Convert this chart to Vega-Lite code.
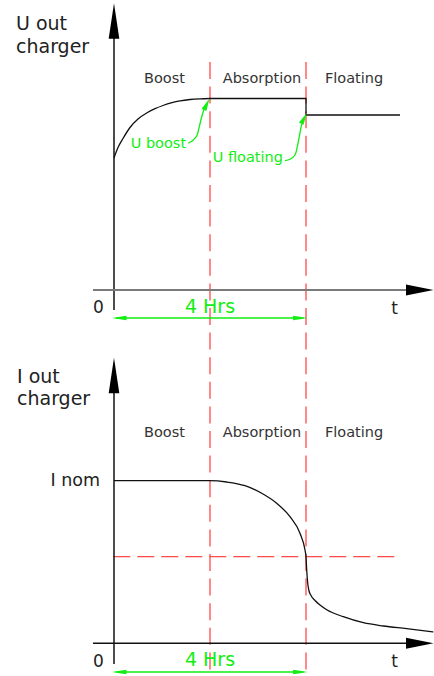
{
  "$schema": "https://vega.github.io/schema/vega-lite/v6.json",
  "width": 434,
  "height": 676,
  "padding": 0,
  "autosize": {"type": "none"},
  "background": "white",
  "config": {"view": {"stroke": null}},
  "datasets": {
    "segments": [
      {"kind": "dashV", "h": 2, "h2": 2, "v": 614, "v2": 4},
      {"kind": "dashV", "h": 4, "h2": 4, "v": 614, "v2": 4},
      {"kind": "dashH", "h": -0.0146, "h2": 5.9729, "v": 119.3, "v2": 119.3},
      {"kind": "axisV", "h": 0, "h2": 0, "v": 648, "v2": 366},
      {"kind": "axisV", "h": 0, "h2": 0, "v": 292, "v2": 12},
      {"kind": "axisHtop", "h": -0.4375, "h2": 6.1667, "v": 386, "v2": 386},
      {"kind": "axisHbot", "h": -0.4375, "h2": 6.1667, "v": 32.7, "v2": 32.7},
      {"kind": "dim", "h": 0.0417, "h2": 3.9479, "v": 358, "v2": 358},
      {"kind": "dim", "h": 0.0417, "h2": 3.9479, "v": 4, "v2": 4}
    ],
    "curves": [
      {"curve": "Urise", "i": 1, "h": 0, "v": 518},
      {"curve": "Urise", "i": 2, "h": 0.0833, "v": 528.4},
      {"curve": "Urise", "i": 3, "h": 0.1875, "v": 537.5},
      {"curve": "Urise", "i": 4, "h": 0.3333, "v": 548.5},
      {"curve": "Urise", "i": 5, "h": 0.5, "v": 557},
      {"curve": "Urise", "i": 6, "h": 0.6875, "v": 563.2},
      {"curve": "Urise", "i": 7, "h": 0.8542, "v": 567.3},
      {"curve": "Urise", "i": 8, "h": 1.0208, "v": 570.5},
      {"curve": "Urise", "i": 9, "h": 1.2083, "v": 573.3},
      {"curve": "Urise", "i": 10, "h": 1.375, "v": 575.1},
      {"curve": "Urise", "i": 11, "h": 1.5833, "v": 576.5},
      {"curve": "Urise", "i": 12, "h": 1.7917, "v": 577.2},
      {"curve": "Urise", "i": 13, "h": 2, "v": 577.5},
      {"curve": "Ustep", "i": 1, "h": 2, "v": 577.5},
      {"curve": "Ustep", "i": 2, "h": 4, "v": 577.5},
      {"curve": "Ustep", "i": 3, "h": 4, "v": 561},
      {"curve": "Ustep", "i": 4, "h": 5.9583, "v": 561},
      {"curve": "I", "i": 1, "h": 0, "v": 195.3},
      {"curve": "I", "i": 2, "h": 2, "v": 195.3},
      {"curve": "I", "i": 3, "h": 2.3479, "v": 194},
      {"curve": "I", "i": 4, "h": 2.7292, "v": 190.3},
      {"curve": "I", "i": 5, "h": 3.0771, "v": 182.7},
      {"curve": "I", "i": 6, "h": 3.3896, "v": 172.7},
      {"curve": "I", "i": 7, "h": 3.6667, "v": 159.3},
      {"curve": "I", "i": 8, "h": 3.875, "v": 142.7},
      {"curve": "I", "i": 9, "h": 3.9792, "v": 126},
      {"curve": "I", "i": 10, "h": 4, "v": 119.3},
      {"curve": "I", "i": 11, "h": 4.0146, "v": 106},
      {"curve": "I", "i": 12, "h": 4.0333, "v": 94},
      {"curve": "I", "i": 13, "h": 4.0583, "v": 86},
      {"curve": "I", "i": 14, "h": 4.1042, "v": 80.5},
      {"curve": "I", "i": 15, "h": 4.1875, "v": 75.5},
      {"curve": "I", "i": 16, "h": 4.2917, "v": 71},
      {"curve": "I", "i": 17, "h": 4.4313, "v": 66.3},
      {"curve": "I", "i": 18, "h": 4.7771, "v": 59.3},
      {"curve": "I", "i": 19, "h": 5.1938, "v": 53.3},
      {"curve": "I", "i": 20, "h": 5.6104, "v": 50},
      {"curve": "I", "i": 21, "h": 6.0979, "v": 47.3},
      {"curve": "I", "i": 22, "h": 6.6521, "v": 44},
      {"curve": "boost", "i": 1, "h": 1.5479, "v": 532.7},
      {"curve": "boost", "i": 2, "h": 1.6521, "v": 536},
      {"curve": "boost", "i": 3, "h": 1.7229, "v": 540},
      {"curve": "boost", "i": 4, "h": 1.7771, "v": 549.3},
      {"curve": "boost", "i": 5, "h": 1.8271, "v": 559.3},
      {"curve": "boost", "i": 6, "h": 1.8854, "v": 568},
      {"curve": "float", "i": 1, "h": 3.5625, "v": 515.3},
      {"curve": "float", "i": 2, "h": 3.6667, "v": 516.7},
      {"curve": "float", "i": 3, "h": 3.7708, "v": 521},
      {"curve": "float", "i": 4, "h": 3.8188, "v": 529.3},
      {"curve": "float", "i": 5, "h": 3.8604, "v": 539.3},
      {"curve": "float", "i": 6, "h": 3.8958, "v": 548.7},
      {"curve": "float", "i": 7, "h": 3.9229, "v": 553}
    ],
    "heads": [
      {"kind": "upBlack", "h": 0, "v": 655},
      {"kind": "upBlack", "h": 0, "v": 300.5},
      {"kind": "rightBlack", "h": 6.3698, "v": 386},
      {"kind": "rightBlack", "h": 6.3698, "v": 32.7},
      {"kind": "leftGreen", "h": 0.1083, "v": 358},
      {"kind": "leftGreen", "h": 0.1083, "v": 4},
      {"kind": "rightGreen", "h": 3.8833, "v": 358},
      {"kind": "rightGreen", "h": 3.8833, "v": 4},
      {"kind": "boostGreen", "h": 1.9323, "v": 571.75},
      {"kind": "floatGreen", "h": 3.9604, "v": 557.8}
    ],
    "labels": [
      {"cls": "title", "text": "U out", "h": -2.0417, "v": 646},
      {"cls": "title", "text": "charger", "h": -2.0417, "v": 623},
      {"cls": "title", "text": "I out", "h": -2.0208, "v": 293.3},
      {"cls": "title", "text": "charger", "h": -2.0208, "v": 271},
      {"cls": "phase", "text": "Boost", "h": 1.0521, "v": 593},
      {"cls": "phase", "text": "Absorption", "h": 3.0833, "v": 593},
      {"cls": "phase", "text": "Floating", "h": 5.0, "v": 593},
      {"cls": "phase", "text": "Boost", "h": 1.0521, "v": 239.3},
      {"cls": "phase", "text": "Absorption", "h": 3.0833, "v": 239.3},
      {"cls": "phase", "text": "Floating", "h": 5.0, "v": 239.3},
      {"cls": "tick", "text": "0", "h": -0.3229, "v": 363},
      {"cls": "tick", "text": "0", "h": -0.3229, "v": 9},
      {"cls": "tick", "text": "t", "h": 5.8438, "v": 362},
      {"cls": "tick", "text": "t", "h": 5.8438, "v": 9},
      {"cls": "inom", "text": "I nom", "h": -0.2917, "v": 190.5},
      {"cls": "hrs", "text": "4 Hrs", "h": 2, "v": 363.3},
      {"cls": "hrs", "text": "4 Hrs", "h": 2, "v": 10.3},
      {"cls": "ulabel", "text": "U boost", "h": 0.3479, "v": 528},
      {"cls": "ulabel", "text": "U floating", "h": 2.0563, "v": 514.3}
    ]
  },
  "encoding": {
    "x": {"field": "h", "type": "quantitative", "axis": null, "scale": {"domain": [-2.375, 6.6667], "nice": false, "zero": false}},
    "y": {"field": "v", "type": "quantitative", "axis": null, "scale": {"domain": [0, 676], "nice": false, "zero": false}}
  },
  "layer": [
    {
      "data": {"name": "segments"},
      "transform": [{"filter": "datum.kind === 'dashV'"}],
      "mark": {"type": "rule", "color": "#ff4a4a", "strokeWidth": 1.3, "strokeDash": [17, 7.6]},
      "encoding": {"x2": {"field": "h2"}, "y2": {"field": "v2"}}
    },
    {
      "data": {"name": "segments"},
      "transform": [{"filter": "datum.kind === 'dashH'"}],
      "mark": {"type": "rule", "color": "#ff4a4a", "strokeWidth": 1.3, "strokeDash": [17, 7]},
      "encoding": {"x2": {"field": "h2"}, "y2": {"field": "v2"}}
    },
    {
      "data": {"name": "segments"},
      "transform": [{"filter": "datum.kind === 'axisV'"}],
      "mark": {"type": "rule", "color": "#111111", "strokeWidth": 1.5},
      "encoding": {"x2": {"field": "h2"}, "y2": {"field": "v2"}}
    },
    {
      "data": {"name": "segments"},
      "transform": [{"filter": "datum.kind === 'axisHtop'"}],
      "mark": {"type": "rule", "color": "#7a7a7a", "strokeWidth": 2},
      "encoding": {"x2": {"field": "h2"}, "y2": {"field": "v2"}}
    },
    {
      "data": {"name": "segments"},
      "transform": [{"filter": "datum.kind === 'axisHbot'"}],
      "mark": {"type": "rule", "color": "#111111", "strokeWidth": 1.5},
      "encoding": {"x2": {"field": "h2"}, "y2": {"field": "v2"}}
    },
    {
      "data": {"name": "segments"},
      "transform": [{"filter": "datum.kind === 'dim'"}],
      "mark": {"type": "rule", "color": "#11ee11", "strokeWidth": 1.4},
      "encoding": {"x2": {"field": "h2"}, "y2": {"field": "v2"}}
    },
    {
      "data": {"name": "curves"},
      "transform": [{"filter": "datum.curve === 'Urise' || datum.curve === 'I'"}],
      "mark": {"type": "line", "color": "#111111", "strokeWidth": 1.3, "interpolate": "monotone"},
      "encoding": {"detail": {"field": "curve"}, "order": {"field": "i", "type": "quantitative"}}
    },
    {
      "data": {"name": "curves"},
      "transform": [{"filter": "datum.curve === 'Ustep'"}],
      "mark": {"type": "line", "color": "#111111", "strokeWidth": 1.3},
      "encoding": {"order": {"field": "i", "type": "quantitative"}}
    },
    {
      "data": {"name": "curves"},
      "transform": [{"filter": "datum.curve === 'boost' || datum.curve === 'float'"}],
      "mark": {"type": "line", "color": "#11ee11", "strokeWidth": 1.3, "interpolate": "catmull-rom"},
      "encoding": {"detail": {"field": "curve"}, "order": {"field": "i", "type": "quantitative"}}
    },
    {
      "data": {"name": "heads"},
      "transform": [{"filter": "datum.kind === 'upBlack'"}],
      "mark": {"type": "point", "shape": "M0,-1L0.3,1L-0.3,1Z", "size": 1260, "filled": true, "color": "#000000", "opacity": 1, "strokeWidth": 0}
    },
    {
      "data": {"name": "heads"},
      "transform": [{"filter": "datum.kind === 'rightBlack'"}],
      "mark": {"type": "point", "shape": "M1,0L-1,-0.4L-1,0.4Z", "size": 756, "filled": true, "color": "#000000", "opacity": 1, "strokeWidth": 0}
    },
    {
      "data": {"name": "heads"},
      "transform": [{"filter": "datum.kind === 'leftGreen'"}],
      "mark": {"type": "point", "shape": "M-1,0L1,-0.32L1,0.32Z", "size": 213, "filled": true, "color": "#11ee11", "opacity": 1, "strokeWidth": 0}
    },
    {
      "data": {"name": "heads"},
      "transform": [{"filter": "datum.kind === 'rightGreen'"}],
      "mark": {"type": "point", "shape": "M1,0L-1,-0.32L-1,0.32Z", "size": 213, "filled": true, "color": "#11ee11", "opacity": 1, "strokeWidth": 0}
    },
    {
      "data": {"name": "heads"},
      "transform": [{"filter": "datum.kind === 'boostGreen'"}],
      "mark": {"type": "point", "shape": "M0,-1L0.42,1L-0.42,1Z", "size": 161, "angle": 26, "filled": true, "color": "#11ee11", "opacity": 1, "strokeWidth": 0}
    },
    {
      "data": {"name": "heads"},
      "transform": [{"filter": "datum.kind === 'floatGreen'"}],
      "mark": {"type": "point", "shape": "M0,-1L0.42,1L-0.42,1Z", "size": 150, "angle": 28, "filled": true, "color": "#11ee11", "opacity": 1, "strokeWidth": 0}
    },
    {
      "data": {"name": "labels"},
      "transform": [{"filter": "datum.cls === 'title'"}],
      "mark": {"type": "text", "align": "left", "baseline": "alphabetic", "font": "DejaVu Sans", "fontSize": 19, "color": "#222222"},
      "encoding": {"text": {"field": "text"}}
    },
    {
      "data": {"name": "labels"},
      "transform": [{"filter": "datum.cls === 'phase'"}],
      "mark": {"type": "text", "align": "center", "baseline": "alphabetic", "font": "DejaVu Sans", "fontSize": 14.5, "color": "#333333"},
      "encoding": {"text": {"field": "text"}}
    },
    {
      "data": {"name": "labels"},
      "transform": [{"filter": "datum.cls === 'tick'"}],
      "mark": {"type": "text", "align": "center", "baseline": "alphabetic", "font": "DejaVu Sans", "fontSize": 17, "color": "#222222"},
      "encoding": {"text": {"field": "text"}}
    },
    {
      "data": {"name": "labels"},
      "transform": [{"filter": "datum.cls === 'inom'"}],
      "mark": {"type": "text", "align": "right", "baseline": "alphabetic", "font": "DejaVu Sans", "fontSize": 17.5, "color": "#222222"},
      "encoding": {"text": {"field": "text"}}
    },
    {
      "data": {"name": "labels"},
      "transform": [{"filter": "datum.cls === 'hrs'"}],
      "mark": {"type": "text", "align": "center", "baseline": "alphabetic", "font": "DejaVu Sans", "fontSize": 19, "color": "#11ee11"},
      "encoding": {"text": {"field": "text"}}
    },
    {
      "data": {"name": "labels"},
      "transform": [{"filter": "datum.cls === 'ulabel'"}],
      "mark": {"type": "text", "align": "left", "baseline": "alphabetic", "font": "DejaVu Sans", "fontSize": 14.5, "color": "#11ee11"},
      "encoding": {"text": {"field": "text"}}
    }
  ]
}
